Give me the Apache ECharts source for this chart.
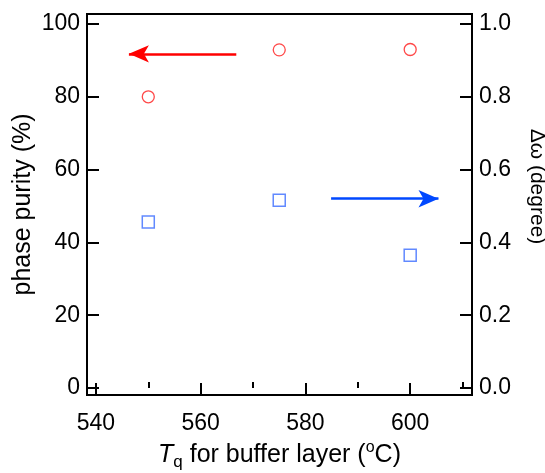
<!DOCTYPE html>
<html>
<head>
<meta charset="utf-8">
<script src="https://cdn.jsdelivr.net/npm/echarts@6/dist/echarts.min.js"></script>
<style>html,body{margin:0;padding:0;background:#fff}#c{width:545px;height:473px}</style>
</head>
<body>
<div id="c"></div>
<script>
// data
var temperatures = [550, 575, 600];
var phasePurity = [80.0, 92.9, 93.0];
var deltaOmega = [0.456, 0.516, 0.365];
// axis ranges and tick labels
var xRange = [538.3, 611.8];
var xMajorTicks = [540, 560, 580, 600];
var xMinorTicks = [550, 570, 590, 610];
var leftRange = [-1.92, 102.75];
var leftTicks = [0, 20, 40, 60, 80, 100];
var rightRange = [-0.0192, 1.0275];
var rightTicks = [0, 0.2, 0.4, 0.6, 0.8, 1.0];
// annotation arrows (data coords)
var redArrow = [[566.8, 91.8], [546.3, 91.8]];
var blueArrow = [[584.9, 0.52], [605.4, 0.52]];

var FONT = 'Liberation Sans, Arial, sans-serif';
var chart = echarts.init(document.getElementById('c'), null, {renderer: 'canvas'});
var axisLine = {show: true, onZero: false, lineStyle: {color: '#000', width: 2}};
chart.setOption({
  animation: false,
  grid: {left: 87, right: 73, top: 14, bottom: 78, show: true, borderColor: '#000', borderWidth: 2,
    backgroundColor: 'transparent', containLabel: false, outerBoundsMode: 'none'},
  xAxis: [{
    type: 'value', min: xRange[0], max: xRange[1],
    axisLine: axisLine,
    axisTick: {show: true, inside: true, length: 12, lineStyle: {color: '#000', width: 2}, customValues: xMajorTicks},
    axisLabel: {color: '#000', fontFamily: FONT, fontSize: 23, margin: 17, customValues: xMajorTicks},
    splitLine: {show: false},
    name: '{i|T}{sub|q} for buffer layer ({sup|o}C)',
    nameLocation: 'middle', nameGap: 45, nameMoveOverlap: false,
    nameTextStyle: {color: '#000', fontFamily: FONT, fontSize: 25,
      rich: {
        i: {fontStyle: 'italic', fontFamily: FONT, fontSize: 25, color: '#000'},
        sub: {fontFamily: FONT, fontSize: 17, color: '#000', verticalAlign: 'bottom', padding: [14, 0, 0, 0]},
        sup: {fontFamily: FONT, fontSize: 16, color: '#000', verticalAlign: 'top', padding: [0, 0, 9, 0]}
      }}
  }, {
    type: 'value', min: xRange[0], max: xRange[1], position: 'bottom',
    axisLine: {show: false},
    axisTick: {show: true, inside: true, length: 6, lineStyle: {color: '#000', width: 2}, customValues: xMinorTicks},
    axisLabel: {show: false},
    splitLine: {show: false}
  }],
  yAxis: [{
    type: 'value', min: leftRange[0], max: leftRange[1], position: 'left',
    axisLine: axisLine,
    axisTick: {show: true, inside: true, length: 12, lineStyle: {color: '#000', width: 2}, customValues: leftTicks},
    axisLabel: {color: '#000', fontFamily: FONT, fontSize: 23, margin: 7, customValues: leftTicks},
    splitLine: {show: false},
    name: 'phase purity (%)', nameLocation: 'middle', nameGap: 51, nameRotate: 90, nameMoveOverlap: false,
    nameTextStyle: {color: '#000', fontFamily: FONT, fontSize: 25}
  }, {
    type: 'value', min: rightRange[0], max: rightRange[1], position: 'right',
    axisLine: axisLine,
    axisTick: {show: true, inside: true, length: 12, lineStyle: {color: '#000', width: 2}, customValues: rightTicks},
    axisLabel: {color: '#000', fontFamily: FONT, fontSize: 23, margin: 7, customValues: rightTicks,
      formatter: function (v) { return v.toFixed(1); }},
    splitLine: {show: false},
    name: 'Δω (degree)', nameLocation: 'middle', nameGap: 54, nameRotate: -90, nameMoveOverlap: false,
    nameTextStyle: {color: '#000', fontFamily: FONT, fontSize: 21, padding: [0, 36, 0, 0], overflow: 'none'}
  }],
  series: [{
    type: 'scatter', xAxisIndex: 0, yAxisIndex: 0,
    data: temperatures.map(function (t, i) { return [t, phasePurity[i]]; }),
    symbol: 'circle', symbolSize: 12,
    itemStyle: {color: 'rgba(255,255,255,0)', borderColor: '#ff1a1a', borderWidth: 1.3},
    emphasis: {disabled: true}, silent: true,
    markLine: {
      silent: true, symbol: ['none', 'arrow'], symbolSize: [13, 20], animation: false,
      label: {show: false},
      lineStyle: {color: '#ff0000', width: 2.5, type: 'solid'},
      emphasis: {disabled: true},
      data: [[{coord: redArrow[0]}, {coord: redArrow[1]}]]
    }
  }, {
    type: 'scatter', xAxisIndex: 0, yAxisIndex: 1,
    data: temperatures.map(function (t, i) { return [t, deltaOmega[i]]; }),
    symbol: 'rect', symbolSize: 12,
    itemStyle: {color: 'rgba(255,255,255,0)', borderColor: '#3a6cff', borderWidth: 1.5},
    emphasis: {disabled: true}, silent: true,
    markLine: {
      silent: true, symbol: ['none', 'arrow'], symbolSize: [13, 20], animation: false,
      label: {show: false},
      lineStyle: {color: '#0048ff', width: 2.5, type: 'solid'},
      emphasis: {disabled: true},
      data: [[{coord: blueArrow[0]}, {coord: blueArrow[1]}]]
    }
  }]
});
</script>
</body>
</html>
